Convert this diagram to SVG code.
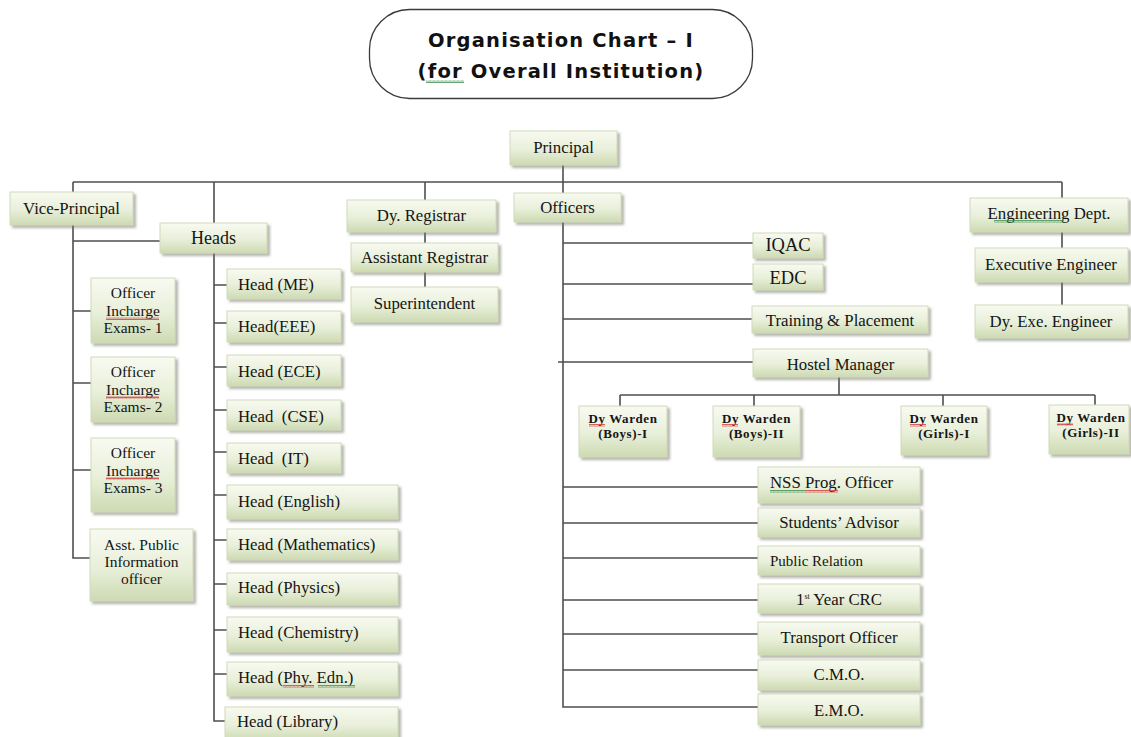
<svg xmlns="http://www.w3.org/2000/svg" width="1131" height="737" viewBox="0 0 1131 737">
<style>
.box{fill:url(#bg);stroke:#cfdab9;stroke-width:1;filter:url(#sh)}
.t{font-family:"Liberation Serif","Times New Roman",serif;font-size:16.8px;fill:#151515;text-anchor:middle}
.s{font-size:15.5px}
.l{text-anchor:start}
.w{font-family:"Liberation Serif","Times New Roman",serif;font-size:13px;letter-spacing:0.6px;font-weight:bold;fill:#151515;text-anchor:middle}
.ln{fill:none;stroke:#4f4f4f;stroke-width:1.6}
.title{font-family:"DejaVu Sans",Verdana,sans-serif;font-weight:bold;font-size:19.5px;letter-spacing:1.2px;fill:#111;text-anchor:middle}
.red{fill:url(#sqr)}
.grn{fill:url(#sqg)}
</style>
<defs>
<linearGradient id="bg" x1="0" y1="0" x2="0" y2="1">
<stop offset="0" stop-color="#f8faf1"/>
<stop offset="0.55" stop-color="#e8efd9"/>
<stop offset="1" stop-color="#cddab2"/>
</linearGradient>
<filter id="sh" x="-10%" y="-10%" width="125%" height="140%">
<feDropShadow dx="2.5" dy="2.5" stdDeviation="1.2" flood-color="#777769" flood-opacity="0.55"/>
</filter>
<pattern id="sqr" width="4" height="3" patternUnits="userSpaceOnUse">
<path d="M0 2.5L1 0.5L2 2.5L3 0.5L4 2.5" fill="none" stroke="#d23a3a" stroke-width="0.8"/>
</pattern>
<pattern id="sqg" width="4" height="3" patternUnits="userSpaceOnUse">
<path d="M0 2.5L1 0.5L2 2.5L3 0.5L4 2.5" fill="none" stroke="#3f8f4f" stroke-width="0.8"/>
</pattern>
</defs>
<rect width="1131" height="737" fill="#ffffff"/>

<g id="title">
<rect x="369.5" y="9.5" width="383" height="89" rx="40" ry="40" fill="#ffffff" stroke="#3a3a3a" stroke-width="1.3"/>
<text class="title" x="561" y="47">Organisation Chart – I</text>
<text class="title" x="561" y="78">(for Overall Institution)</text>
</g>

<g id="connectors">
<path class="ln" d="M563 165V182M73 182H1062"/>
<path class="ln" d="M73 182V192M73 225V558H90M73 241H160"/>
<path class="ln" d="M73 311H91M73 383H91M73 470H91"/>
<path class="ln" d="M214 182V223M214 253V721H225"/>
<path class="ln" d="M214 285H227M214 323H227M214 367H227M214 410H227M214 452H227M214 495H227M214 540H227M214 584H227M214 630H227M214 674H227"/>
<path class="ln" d="M425 182V200M425 232V243M425 272V287"/>
<path class="ln" d="M563 182V193M563 222V707H758"/>
<path class="ln" d="M563 243H753M563 284H753M563 319H752M558 362H753"/>
<path class="ln" d="M563 487H758M563 523H758M563 558H758M563 600H758M563 634H758M563 670H758"/>
<path class="ln" d="M839 377V395M620 395H1095M620 395V406M754 395V406M943 395V406M1095 395V412"/>
<path class="ln" d="M1062 182V198M1062 232V248M1062 282V305"/>
</g>

<g id="principal"><rect class="box" x="510" y="131" width="107" height="34"/><text class="t" x="563.5" y="153">Principal</text></g>

<g id="vice-principal"><rect class="box" x="10" y="192" width="123" height="33"/><text class="t" x="71.5" y="214">Vice-Principal</text></g>
<g id="oie1"><rect class="box" x="91" y="278" width="84" height="65"/><text class="t s" x="133" y="298">Officer</text><text class="t s" x="133" y="315.5">Incharge</text><text class="t s" x="133" y="333">Exams- 1</text></g>
<g id="oie2"><rect class="box" x="91" y="357" width="84" height="65"/><text class="t s" x="133" y="377">Officer</text><text class="t s" x="133" y="394.5">Incharge</text><text class="t s" x="133" y="412">Exams- 2</text></g>
<g id="oie3"><rect class="box" x="91" y="438" width="84" height="74"/><text class="t s" x="133" y="458">Officer</text><text class="t s" x="133" y="475.5">Incharge</text><text class="t s" x="133" y="493">Exams- 3</text></g>
<g id="apio"><rect class="box" x="90" y="529" width="103" height="72"/><text class="t s" x="141.5" y="550">Asst. Public</text><text class="t s" x="141.5" y="567">Information</text><text class="t s" x="141.5" y="584">officer</text></g>

<g id="heads"><rect class="box" x="160" y="223" width="107" height="30"/><text class="t" x="213.5" y="244" style="font-size:18px">Heads</text></g>
<g id="head-me"><rect class="box" x="227" y="269" width="114" height="30"/><text class="t l" x="238" y="290">Head (ME)</text></g>
<g id="head-eee"><rect class="box" x="227" y="311" width="114" height="31"/><text class="t l" x="238" y="332">Head(EEE)</text></g>
<g id="head-ece"><rect class="box" x="227" y="355" width="114" height="31"/><text class="t l" x="238" y="377">Head (ECE)</text></g>
<g id="head-cse"><rect class="box" x="227" y="400" width="114" height="30"/><text class="t l" x="238" y="422" xml:space="preserve">Head  (CSE)</text></g>
<g id="head-it"><rect class="box" x="227" y="443" width="114" height="30"/><text class="t l" x="238" y="464" xml:space="preserve">Head  (IT)</text></g>
<g id="head-english"><rect class="box" x="227" y="485" width="171" height="34"/><text class="t l" x="238" y="507">Head (English)</text></g>
<g id="head-maths"><rect class="box" x="227" y="529" width="171" height="31"/><text class="t l" x="238" y="550">Head (Mathematics)</text></g>
<g id="head-physics"><rect class="box" x="227" y="573" width="171" height="32"/><text class="t l" x="238" y="593">Head (Physics)</text></g>
<g id="head-chemistry"><rect class="box" x="227" y="617" width="171" height="35"/><text class="t l" x="238" y="638">Head (Chemistry)</text></g>
<g id="head-phyedn"><rect class="box" x="227" y="662" width="171" height="34"/><text class="t l" x="238" y="683">Head (Phy. Edn.)</text></g>
<g id="head-library"><rect class="box" x="225" y="707" width="173" height="34"/><text class="t l" x="237" y="727">Head (Library)</text></g>

<g id="dy-registrar"><rect class="box" x="347" y="200" width="149" height="32"/><text class="t" x="421.5" y="221">Dy. Registrar</text></g>
<g id="asst-registrar"><rect class="box" x="351" y="243" width="147" height="29"/><text class="t" x="424.5" y="263">Assistant Registrar</text></g>
<g id="superintendent"><rect class="box" x="351" y="287" width="147" height="35"/><text class="t" x="424.5" y="309">Superintendent</text></g>

<g id="officers"><rect class="box" x="514" y="193" width="107" height="29"/><text class="t" x="567.5" y="213">Officers</text></g>
<g id="iqac"><rect class="box" x="753" y="233" width="70" height="25"/><text class="t" x="788" y="251" style="font-size:18.5px">IQAC</text></g>
<g id="edc"><rect class="box" x="753" y="264" width="70" height="26"/><text class="t" x="788" y="284" style="font-size:18.5px">EDC</text></g>
<g id="training"><rect class="box" x="752" y="306" width="176" height="27"/><text class="t" x="840" y="326">Training &amp; Placement</text></g>
<g id="hostel"><rect class="box" x="753" y="349" width="175" height="28"/><text class="t" x="840.5" y="370">Hostel Manager</text></g>
<g id="warden-b1"><rect class="box" x="579" y="406" width="88" height="51"/><text class="w" x="623" y="422.5">Dy Warden</text><text class="w" x="623" y="437.5">(Boys)-I</text></g>
<g id="warden-b2"><rect class="box" x="713" y="406" width="87" height="51"/><text class="w" x="756.5" y="422.5">Dy Warden</text><text class="w" x="756.5" y="437.5">(Boys)-II</text></g>
<g id="warden-g1"><rect class="box" x="901" y="406" width="86" height="49"/><text class="w" x="944" y="422.5">Dy Warden</text><text class="w" x="944" y="437.5">(Girls)-I</text></g>
<g id="warden-g2"><rect class="box" x="1049" y="405" width="80" height="49"/><text class="w" x="1091" y="421.5">Dy Warden</text><text class="w" x="1091" y="436.5">(Girls)-II</text></g>

<g id="nss"><rect class="box" x="758" y="467" width="162" height="36"/><text class="t l" x="770" y="488">NSS Prog. Officer</text></g>
<g id="students-advisor"><rect class="box" x="758" y="508" width="162" height="29"/><text class="t" x="839" y="528">Students’ Advisor</text></g>
<g id="public-relation"><rect class="box" x="758" y="546" width="162" height="29"/><text class="t l" x="770" y="566" style="font-size:15px">Public Relation</text></g>
<g id="crc"><rect class="box" x="758" y="584" width="162" height="29"/><text class="t" x="839" y="605">1<tspan font-size="8" dy="-6">st</tspan><tspan dy="6"> Year CRC</tspan></text></g>
<g id="transport"><rect class="box" x="758" y="622" width="162" height="33"/><text class="t" x="839" y="643">Transport Officer</text></g>
<g id="cmo"><rect class="box" x="758" y="660" width="162" height="30"/><text class="t" x="839" y="680">C.M.O.</text></g>
<g id="emo"><rect class="box" x="758" y="694" width="162" height="31"/><text class="t" x="839" y="716">E.M.O.</text></g>

<g id="eng-dept"><rect class="box" x="970" y="198" width="158" height="34"/><text class="t" x="1049" y="219">Engineering Dept.</text></g>
<g id="exec-eng"><rect class="box" x="975" y="248" width="153" height="34"/><text class="t" x="1051" y="270">Executive Engineer</text></g>
<g id="dy-exe-eng"><rect class="box" x="975" y="305" width="153" height="33"/><text class="t" x="1051" y="327">Dy. Exe. Engineer</text></g>

<g id="spellcheck-marks">
<rect class="grn" x="426" y="80" width="38" height="3"/>
<rect class="red" x="106" y="317" width="53" height="3"/>
<rect class="red" x="106" y="396" width="53" height="3"/>
<rect class="red" x="106" y="477" width="53" height="3"/>
<rect class="grn" x="994" y="220" width="70" height="3"/>
<rect class="red" x="589" y="424" width="16" height="3"/>
<rect class="red" x="722" y="424" width="16" height="3"/>
<rect class="red" x="910" y="424" width="16" height="3"/>
<rect class="red" x="1057" y="423" width="16" height="3"/>
<rect class="grn" x="770" y="490" width="36" height="3"/>
<rect class="red" x="806" y="490" width="32" height="3"/>
<rect class="red" x="283" y="685" width="31" height="3"/>
<rect class="grn" x="318" y="685" width="37" height="3"/>
</g>
</svg>
